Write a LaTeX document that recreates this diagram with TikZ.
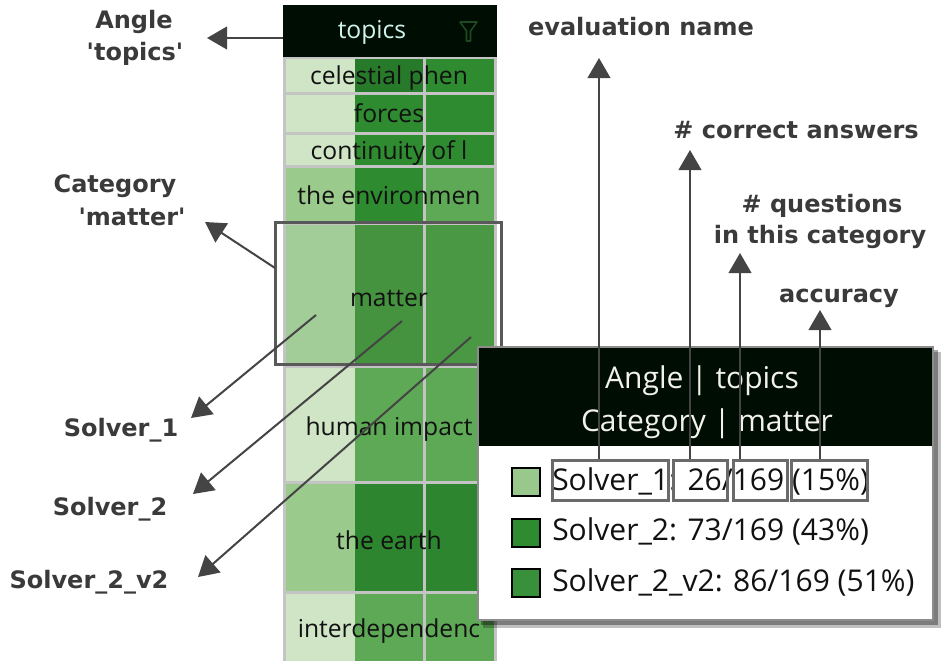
\documentclass[tikz,border=0pt]{standalone}
\usepackage{fontspec}
\setmainfont{Open Sans}
\newfontfamily\annfont{DejaVu Sans}
\usetikzlibrary{arrows.meta}
\definecolor{hdr}{HTML}{000D02}
\definecolor{gridc}{HTML}{C4C4C4}
\definecolor{cL}{HTML}{CFE5C6}
\definecolor{cM}{HTML}{9BCA8D}
\definecolor{cD}{HTML}{2E8B30}
\definecolor{cDD}{HTML}{277A2A}
\definecolor{cG}{HTML}{5EA956}
\definecolor{cE}{HTML}{2E8530}
\definecolor{mA}{HTML}{A3CD98}
\definecolor{mB}{HTML}{45923F}
\definecolor{mC}{HTML}{4A9844}
\definecolor{anncol}{HTML}{3A3A3A}
\definecolor{arrcol}{HTML}{444444}
\definecolor{celltext}{HTML}{111111}
\definecolor{hdrtext}{HTML}{F2F2EA}
\definecolor{boxcol}{HTML}{6A6A6A}
\definecolor{legL}{HTML}{98C88C}
\definecolor{filtc}{HTML}{1E4A22}
\tikzset{
  ann/.style={font=\annfont\bfseries\fontsize{18}{21}\selectfont, text=anncol, inner sep=0pt, anchor=base},
  cellt/.style={font=\fontsize{18.5}{22}\selectfont, text=celltext, inner sep=0pt, anchor=base},
  tipt/.style={font=\fontsize{22.5}{27}\selectfont, inner sep=0pt, anchor=base},
  arr/.style={draw=arrcol, line width=1.5pt, -{Triangle[length=15pt,width=17pt]}},
  hlbox/.style={draw=boxcol, line width=2.25pt, inner sep=0pt, minimum height=30pt},
  legsq/.style={draw=black, line width=1.5pt, inner sep=0pt, minimum width=21pt, minimum height=21pt},
}
\begin{document}
\begin{tikzpicture}[x=0.75pt,y=-0.75pt]
\useasboundingbox (0,0) rectangle (951,661);
\fill[white] (0,0) rectangle (951,661);

% ---------- table ----------
\fill[gridc] (283,57) rectangle (497,661);
\fill[hdr] (283,5) rectangle (497,57);
\node[font=\fontsize{18.5}{22}\selectfont, text=hdrtext!85!cyan, inner sep=0pt, anchor=base] (thead) at (372,38) {topics};
\draw[draw=filtc, line width=1.2pt, line join=round] (460,22) -- (477,22) -- (470.5,31) -- (470.5,41) -- (466.5,41) -- (466.5,31) -- cycle;

% row 1 celestial phen
\fill[cL] (286,59) rectangle (355,92);
\fill[cDD] (355,59) rectangle (423,92);
\fill[cD] (426,59) rectangle (494,92);
% row 2 forces
\fill[cL] (286,95) rectangle (355,132);
\fill[cD] (355,95) rectangle (423,132);
\fill[cD] (426,95) rectangle (494,132);
% row 3 continuity
\fill[cL] (286,135) rectangle (355,165);
\fill[cD] (355,135) rectangle (423,165);
\fill[cD] (426,135) rectangle (494,165);
% row 4 environment
\fill[cM] (286,168) rectangle (355,222);
\fill[cD] (355,168) rectangle (423,222);
\fill[cG] (426,168) rectangle (494,222);
% row 5 matter
\fill[mA] (286,225) rectangle (355,365);
\fill[mB] (355,225) rectangle (423,365);
\fill[mC] (426,225) rectangle (494,365);
% row 6 human impact
\fill[cL] (286,368) rectangle (355,481);
\fill[cG] (355,368) rectangle (423,481);
\fill[cG] (426,368) rectangle (494,481);
% row 7 the earth
\fill[cM] (286,484) rectangle (355,591);
\fill[cE] (355,484) rectangle (423,591);
\fill[cE] (426,484) rectangle (494,591);
% row 8 interdependence
\fill[cL] (286,594) rectangle (355,661);
\fill[cG] (355,594) rectangle (423,661);
\fill[cG] (426,594) rectangle (494,661);

\node[cellt] (r1) at (389,84) {celestial phen};
\node[cellt] (r2) at (389,122) {forces};
\node[cellt] (r3) at (389,159) {continuity of l};
\node[cellt] (r4) at (389,204) {the environmen};
\node[cellt] (r5) at (389,306) {matter};
\node[cellt] (r6) at (389,435) {human impact};
\node[cellt] (r7) at (389,549) {the earth};
\node[cellt] (r8) at (389,637) {interdependenc};

% hover rectangle
\node[draw=black!65, line width=2.25pt, inner sep=0pt, minimum width=170pt, minimum height=106.5pt] (matterbox) at (388.5,293) {};

\coordinate (s1start) at (316,315);
\coordinate (s2start) at (402,321);
\coordinate (s3start) at (471,337);

% ---------- tooltip ----------
\fill[black, opacity=0.25] (483,352) rectangle (941,628);
\fill[black, opacity=0.35] (481,350) rectangle (938,625);
\fill[white] (478,347) rectangle (933,620);
\fill[hdr] (479,348) rectangle (932,446);
\draw[draw=black!45, line width=1.8pt] (478,347) rectangle (933,620);
\node[tipt, text=hdrtext] (tt1) at (702,388) {Angle | topics};
\node[tipt, text=hdrtext] (tt2) at (707,431) {Category | matter};

\node[legsq, fill=legL] (sq1) at (526,482) {};
\node[legsq, fill=cD] (sq2) at (526,533) {};
\node[legsq, fill=cD!95!white] (sq3) at (526,583) {};

\node[tipt, anchor=base west, text=celltext] (l1) at (552,490) {Solver\_1: 26/169 (15\%)};
\node[tipt, anchor=base west, text=celltext] (l2) at (552,540) {Solver\_2: 73/169 (43\%)};
\node[tipt, anchor=base west, text=celltext] (l3) at (552,591) {Solver\_2\_v2: 86/169 (51\%)};

\node[hlbox, minimum width=87pt] (bname) at (610,480) {};
\node[hlbox, minimum width=40.5pt] (bcorr) at (700,480) {};
\node[hlbox, minimum width=40.5pt] (bques) at (760,480) {};
\node[hlbox, minimum width=57pt] (bacc) at (829,480) {};

% ---------- annotations ----------
\node[ann] (angA) at (134,28) {Angle};
\node[ann] (angB) at (135,60) {'topics'};
\node[ann] (catA) at (115,192) {Category};
\node[ann] (catB) at (132,225) {'matter'};
\node[ann] (lab1) at (121,436) {Solver\_1};
\node[ann] (lab2) at (110,515) {Solver\_2};
\node[ann] (lab3) at (89,588) {Solver\_2\_v2};
\node[ann] (evn) at (641,35) {evaluation name};
\node[ann] (cor) at (796,138) {\# correct answers};
\node[ann] (qA) at (822,212) {\# questions};
\node[ann] (qB) at (820,243) {in this category};
\node[ann] (acc) at (839,302) {accuracy};

\coordinate (angtip) at (207,38);
\coordinate (cattip) at (205,222);
\coordinate (t1tip) at (191,418);
\coordinate (t2tip) at (193,494);
\coordinate (t3tip) at (198,577);
\coordinate (evtip) at (599,58);
\coordinate (cotip) at (690,150);
\coordinate (qutip) at (740,253);
\coordinate (actip) at (820,310);
\coordinate (angstart) at (283,38);
\coordinate (catstart) at (275,268);

\draw[arr] (angstart) -- (angtip);
\draw[arr] (catstart) -- (cattip);
\draw[arr] (s1start) -- (t1tip);
\draw[arr] (s2start) -- (t2tip);
\draw[arr] (s3start) -- (t3tip);
\draw[arr] (bname.north -| evtip) -- (evtip);
\draw[arr] (bcorr.north -| cotip) -- (cotip);
\draw[arr] (bques.north -| qutip) -- (qutip);
\draw[arr] (bacc.north -| actip) -- (actip);
\end{tikzpicture}
\end{document}
